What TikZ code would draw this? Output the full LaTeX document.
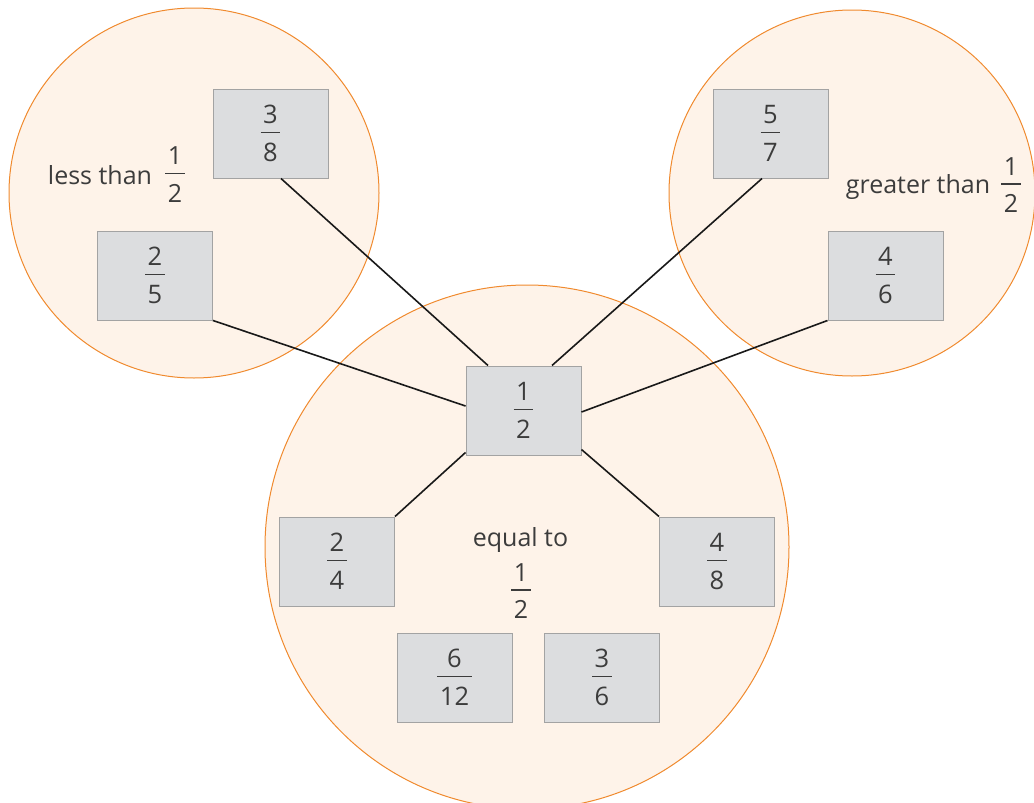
\documentclass[tikz,border=0pt]{standalone}
\usepackage{fontspec}
\setmainfont{Open Sans}
\definecolor{txt}{HTML}{3C3C3C}
\definecolor{boxfill}{HTML}{DCDDDF}
\definecolor{boxline}{HTML}{A3A3A3}
\definecolor{circfill}{HTML}{FEF3E9}
\definecolor{circline}{HTML}{F08A2E}
\newcommand\fr[2]{\vbox{\offinterlineskip\halign{\hfil\kern2.5pt##\kern2.5pt\hfil\cr
  \vphantom{0}#1\cr\noalign{\kern8pt\hrule height 1.4pt\kern10pt}
  \vphantom{0}#2\cr}}}
\tikzset{
  fracbox/.style={draw=boxline, line width=1pt, fill=boxfill, minimum width=115pt, minimum height=89pt, inner sep=0pt, text=txt, font=\fontsize{25.5}{30}\selectfont},
  setcirc/.style={draw=circline, line width=1pt, fill=circfill},
  lbl/.style={text=txt, font=\fontsize{25}{30}\selectfont, inner sep=0pt},
  link/.style={draw=black!90, line width=1.6pt}
}
\begin{document}
\begin{tikzpicture}[x=1pt,y=-1pt]
\useasboundingbox (0,0) rectangle (1034,803);
\clip (0,0) rectangle (1034,803);
% circles
\path[setcirc] (194,193) circle (185pt);
\path[setcirc] (852,193) circle (183pt);
\path[setcirc] (527,547) circle (262pt);
% boxes
\node[fracbox] (n38) at (270.5,133.5) {\fr{3}{8}};
\node[fracbox] (n25) at (155,275.5) {\fr{2}{5}};
\node[fracbox] (n12) at (523.5,410.5) {\fr{1}{2}};
\node[fracbox] (n57) at (770.5,133.5) {\fr{5}{7}};
\node[fracbox] (n46) at (885.5,275.5) {\fr{4}{6}};
\node[fracbox] (n24) at (337,561.5) {\fr{2}{4}};
\node[fracbox] (n48) at (717,561.5) {\fr{4}{8}};
\node[fracbox] (n612) at (454.5,677.5) {\fr{6}{12}};
\node[fracbox] (n36) at (602,677.5) {\fr{3}{6}};
% labels
\node[lbl, anchor=base] (tless) at (100,184) {less than};
\node[lbl] (fless) at (175,174.5) {\fr{1}{2}};
\node[lbl, anchor=base] (tgreat) at (918,193) {greater than};
\node[lbl] (fgreat) at (1011,185) {\fr{1}{2}};
\node[lbl, anchor=base] (tequal) at (520.5,546) {equal to};
\node[lbl] (fequal) at (521,591) {\fr{1}{2}};
% connectors
\draw[link] ([xshift=10.5pt]n38.south) -- ([xshift=-35.5pt]n12.north);
\draw[link] (n25.south east) -- ([yshift=4.5pt]n12.west);
\draw[link] ([xshift=-8.5pt]n57.south) -- ([xshift=28.5pt]n12.north);
\draw[link] (n46.south west) -- ([yshift=-1.5pt]n12.east);
\draw[link] ([yshift=3pt]n12.south west) -- (n24.north east);
\draw[link] ([yshift=6pt]n12.south east) -- (n48.north west);
\end{tikzpicture}
\end{document}
